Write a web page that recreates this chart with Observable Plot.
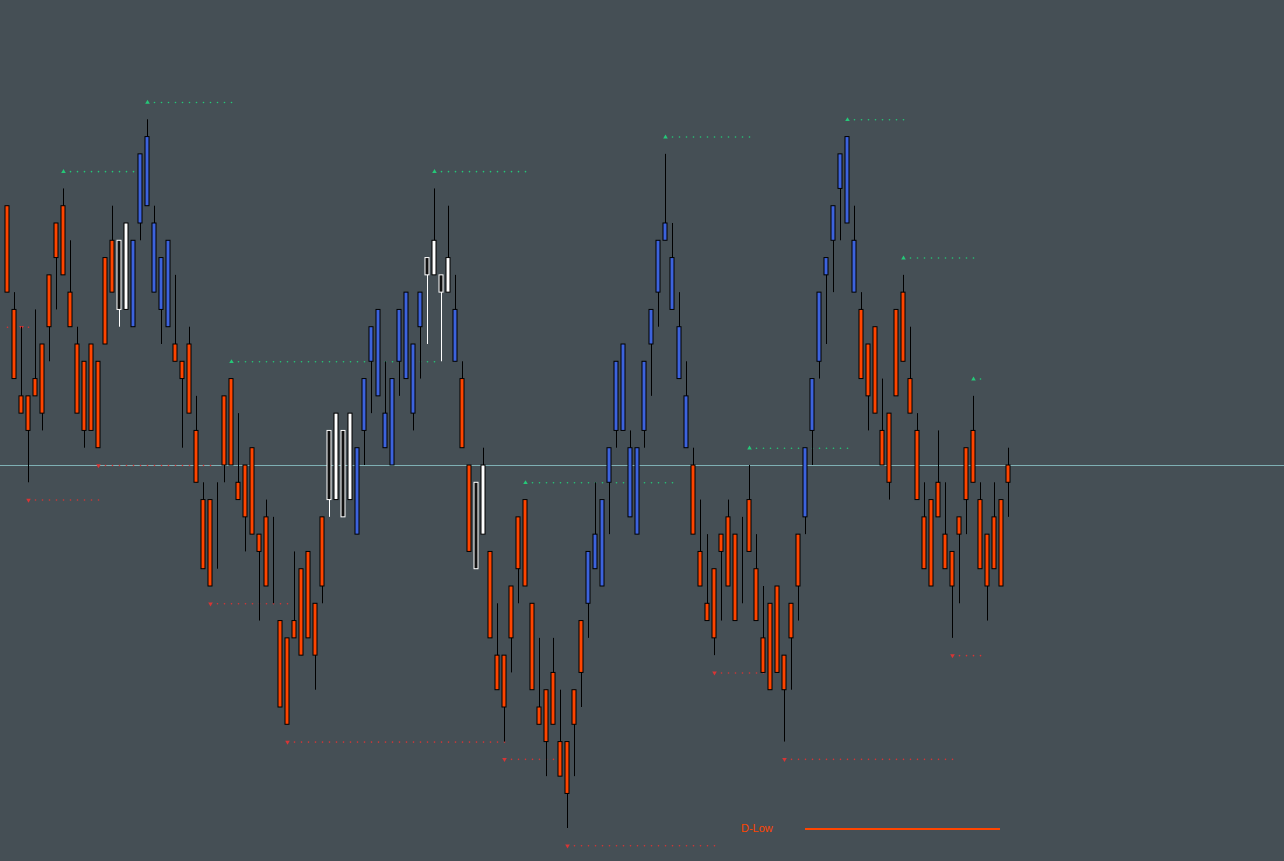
<!DOCTYPE html>
<html>
<head>
<meta charset="utf-8">
<script src="https://cdn.jsdelivr.net/npm/d3@7"></script>
<script src="https://cdn.jsdelivr.net/npm/@observablehq/plot@0.6"></script>
<style>
  html, body { margin: 0; padding: 0; background: #454f55; overflow: hidden; }
  #wrap { position: relative; width: 1284px; height: 861px; }
  #legend { position: absolute; left: 741px; top: 822px; font: 11px "Liberation Sans", Arial, sans-serif; color: #ff4500; }
  #legendLine { position: absolute; left: 805px; top: 828px; width: 195px; height: 2px; background: #ff4500; }
</style>
</head>
<body>
<div id="wrap">
  <div id="chart"></div>
  <div id="legend">D-Low</div>
  <div id="legendLine"></div>
</div>
<script>
// Price levels (in ticks relative to the current price line)
const high = [15,10,8,4,9,7,11,14,16,13, 8,6,7,6,12,15,13,14,13,18,
  20,15,12,13,11,6,8,4,-1,-2, -1,4,5,3,0,1,-4,-2,-3,-9,
  -10,-5,-6,-5,-8,-3,2,3,2,3, 1,5,8,9,6,5,9,10,7,10,
  12,16,11,15,11,6,0,-1,1,-5, -8,-11,-7,-3,-2,-8,-10,-13,-10,-13,
  -16,-13,-9,-5,-1,-2,1,6,7,2, 1,6,9,13,18,14,10,6,1,-2,
  -4,-6,-4,-2,-4,-3,0,-4,-7,-8, -7,-11,-8,-4,1,5,10,12,15,18,
  19,15,10,7,8,5,3,9,11,8, 3,-1,-2,2,-1,-5,-3,1,4,-1, -4,-1,-2,1];
const bodyTop = [15,9,4,4,5,7,11,14,15,10, 7,6,7,6,12,13,13,14,13,18,
  19,14,12,13,7,6,7,2,-2,-2, -1,4,5,-1,0,1,-4,-3,-8,-9,
  -10,-9,-6,-5,-8,-3,2,3,2,3, 1,5,8,9,3,5,9,10,7,10,
  12,13,11,12,9,5,0,-1,0,-5, -11,-11,-7,-3,-2,-8,-14,-13,-12,-16,
  -16,-13,-9,-5,-4,-2,1,6,7,1, 1,6,9,13,14,12,8,4,0,-5,
  -8,-6,-4,-3,-4,-3,-2,-6,-10,-8, -7,-11,-8,-4,1,5,10,12,15,18,
  19,13,9,7,8,2,3,9,10,5, 2,-3,-2,-1,-4,-5,-3,1,2,-2, -4,-3,-2,0];
const bodyBottom = [10,5,3,2,4,3,8,12,11,8, 3,2,2,1,7,10,9,9,8,14,
  15,10,9,8,6,5,3,-1,-6,-7, -1,0,0,-2,-3,-4,-5,-7,-8,-14,
  -15,-10,-11,-10,-11,-7,-2,-2,-3,-2, -4,2,6,4,1,0,6,5,3,8,
  11,11,10,10,6,1,-5,-6,-4,-10, -13,-14,-10,-6,-7,-13,-15,-16,-15,-18,
  -19,-15,-12,-8,-6,-7,-1,2,2,-3, -4,2,7,10,13,9,5,1,-4,-7,
  -9,-10,-5,-7,-9,-3,-5,-9,-12,-13, -12,-13,-10,-7,-3,2,6,11,13,16,
  14,10,5,4,3,0,-1,4,6,3, -2,-6,-7,-3,-6,-7,-4,-2,-1,-6, -7,-6,-7,-1];
const low = [10,5,3,-1,4,2,6,9,11,8, 3,1,2,1,7,10,8,9,8,13,
  15,10,7,8,6,1,3,-1,-6,-7, -6,-1,0,-2,-5,-4,-9,-7,-8,-14,
  -15,-10,-11,-10,-13,-8,-3,-2,-3,-2, -4,0,3,4,1,0,4,5,2,5,
  7,11,6,10,6,1,-5,-6,-4,-10, -13,-16,-12,-8,-7,-13,-15,-18,-15,-18,
  -21,-18,-14,-10,-6,-7,-4,1,2,-3, -4,1,4,8,13,9,5,1,-4,-7,
  -9,-11,-9,-7,-9,-8,-5,-9,-12,-13, -12,-16,-13,-9,-4,0,5,7,10,13,
  14,10,5,2,3,0,-2,4,6,3, -2,-6,-7,-3,-6,-10,-8,-4,-1,-6, -9,-6,-7,-3];
// Candle state: o = down trend, b = up trend, w = white, k = dark (white outline)
const trend = [
  "o","o","o","o","o","o","o","o","o","o","o","o","o","o","o","o",
  "k","w","b","b","b","b","b","b",
  "o","o","o","o","o","o","o","o","o","o","o","o","o","o","o","o","o","o","o","o","o","o",
  "k","w","k","w",
  "b","b","b","b","b","b","b","b","b","b",
  "k","w","k","w","b","o","o","k","w",
  "o","o","o","o","o","o","o","o","o","o","o","o","o","o",
  "b","b","b","b","b","b","b","b","b","b","b","b","b","b","b",
  "o","o","o","o","o","o","o","o","o","o","o","o","o","o","o","o",
  "b","b","b","b","b","b","b","b",
  "o","o","o","o","o","o","o","o","o","o","o","o","o","o","o","o","o","o","o","o","o","o"];
// Swing level lines: level, first candle, last candle, marker candle
const highLevels = [[21,20,32],[17,8,20],[17,61,74],[6,32,61],[-1,74,95],[19,94,106],[1,106,120],[20,120,128],[12,128,138],[5,138,139]];
const lowLevels = [[8,0,3,2],[-2,3,13],[0,13,29],[-8,29,40],[-16,40,71],[-17,71,79],[-22,80,101],[-12,101,108],[-17,111,135],[-11,135,139]];

const fills = {o: "#ff4500", b: "#3d63dd", w: "#ffffff", k: "#111111"};
const strokes = {o: "#000000", b: "#000000", w: "#000000", k: "#ffffff"};

const candles = high.map((h, i) => ({i, h, l: low[i], t: bodyTop[i], b: bodyBottom[i], s: trend[i]}));

function levelPoints(list) {
  const pts = [];
  for (const [level, from, to, at] of list) {
    const m = at === undefined ? from : at;
    for (let i = from; i <= to; i++) pts.push({i, level, marker: i === m});
  }
  return pts;
}
const hiPts = levelPoints(highLevels);
const loPts = levelPoints(lowLevels);

// Plot adds a 0.5px offset at dpr 1, so integer pixel anchors give crisp 1px lines
const pxPerBar = 7, x0 = 7, pxPerTick = 17.286, y0 = 465;
const W = 1284, H = 861;

const chart = Plot.plot({
  width: W, height: H, margin: 0,
  x: {domain: [-x0 / pxPerBar, (W - x0) / pxPerBar], axis: null},
  y: {domain: [-(H - y0) / pxPerTick, y0 / pxPerTick], axis: null},
  color: {type: "identity"},
  style: {background: "#454f55", overflow: "visible"},
  marks: [
    Plot.ruleY([0], {stroke: "#7fb0b4", strokeWidth: 1}),
    Plot.dot(hiPts.filter(d => !d.marker), {x: "i", y: "level", r: 0.8, fill: "#25c878", stroke: null}),
    Plot.dot(hiPts.filter(d => d.marker), {x: "i", y: "level", symbol: "triangle", r: 1.7, fill: "#25c878", stroke: null}),
    Plot.dot(loPts.filter(d => !d.marker), {x: "i", y: "level", r: 0.8, fill: "#d83535", stroke: null}),
    Plot.dot(loPts.filter(d => d.marker), {x: "i", y: "level", symbol: "triangle", rotate: 180, r: 1.7, fill: "#d83535", stroke: null}),
    Plot.ruleX(candles, {x: "i", y1: "l", y2: "h", stroke: d => d.s === "k" ? "#ffffff" : "#000000", strokeWidth: 1}),
    Plot.rect(candles, {
      x1: d => d.i - 2 / pxPerBar, x2: d => d.i + 2 / pxPerBar,
      y1: "b", y2: "t",
      fill: d => fills[d.s], stroke: d => strokes[d.s], strokeWidth: 1
    })
  ]
});
document.getElementById("chart").appendChild(chart);
</script>
</body>
</html>
